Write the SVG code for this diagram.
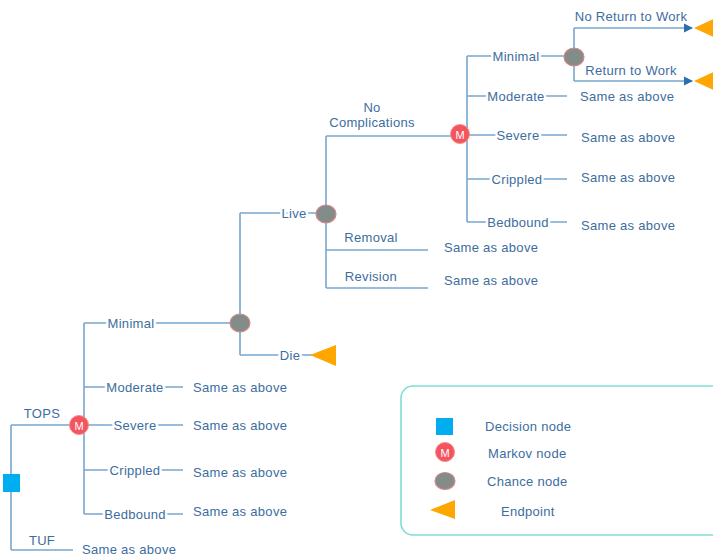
<svg xmlns="http://www.w3.org/2000/svg" width="713" height="560" viewBox="0 0 713 560">
<defs>
<style>
text{font-family:"Liberation Sans",Arial,sans-serif;font-size:13px;fill:#3d6d9e;letter-spacing:0.3px}
.on{paint-order:stroke;stroke:#fff;stroke-width:5px;stroke-linejoin:round;text-anchor:middle;dominant-baseline:central}
.lb{dominant-baseline:central}
.c{text-anchor:middle}
.ln{fill:none;stroke:#79a6cf;stroke-width:1.6}
.mk{fill:#f2555d;stroke:#f88;stroke-width:1}
.mt{fill:#fff;font-size:11px;text-anchor:middle;dominant-baseline:central;letter-spacing:0}
.ch{fill:#828c89;stroke:#d9868a;stroke-width:1.2}
.ep{fill:#ffa600}
.dc{fill:#00aeef}
</style>
<marker id="ar" viewBox="0 0 8 8" refX="7" refY="4" markerWidth="6" markerHeight="6" orient="auto"><path d="M0,0L8,4L0,8z" fill="#2c6fb0"/></marker>
</defs>
<rect width="713" height="560" fill="#fff"/>
<g id="connectors">
<path class="ln" d="M11,425V550M11,425H80M11,550H73"/>
<path class="ln" d="M84,323V514M84,323H240M84,387H183M80,425H183M84,470H183M84,514H183"/>
<path class="ln" d="M240,213V355M240,213H326M240,355H312"/>
<path class="ln" d="M326,136V288M326,136H460M326,250H428M326,288H428"/>
<path class="ln" d="M467,56V222M467,56H576M467,96H567M460,135H567M467,179H567M467,222H567"/>
<path class="ln" d="M574,28V81"/>
<path class="ln" d="M574,28H692" marker-end="url(#ar)"/>
<path class="ln" d="M574,81H692" marker-end="url(#ar)"/>
</g>
<g id="labels">
<text x="42" y="418" class="c">TOPS</text>
<text x="42" y="545" class="c">TUF</text>
<text x="82" y="554">Same as above</text>
<text x="131" y="323" class="on">Minimal</text>
<text x="135" y="387" class="on">Moderate</text>
<text x="135" y="425" class="on">Severe</text>
<text x="135" y="470" class="on">Crippled</text>
<text x="135" y="514" class="on">Bedbound</text>
<text x="193" y="387" class="lb">Same as above</text>
<text x="193" y="425" class="lb">Same as above</text>
<text x="193" y="472" class="lb">Same as above</text>
<text x="193" y="511" class="lb">Same as above</text>
<text x="294" y="213" class="on">Live</text>
<text x="290" y="355" class="on">Die</text>
<text x="372" y="112" class="c">No</text>
<text x="372" y="127" class="c">Complications</text>
<text x="371" y="242" class="c">Removal</text>
<text x="371" y="281" class="c">Revision</text>
<text x="444" y="247" class="lb">Same as above</text>
<text x="444" y="280" class="lb">Same as above</text>
<text x="516" y="56" class="on">Minimal</text>
<text x="516" y="96" class="on">Moderate</text>
<text x="518" y="135" class="on">Severe</text>
<text x="517" y="179" class="on">Crippled</text>
<text x="518" y="222" class="on">Bedbound</text>
<text x="580" y="96" class="lb">Same as above</text>
<text x="581" y="137" class="lb">Same as above</text>
<text x="581" y="177" class="lb">Same as above</text>
<text x="581" y="225" class="lb">Same as above</text>
<text x="631" y="21" class="c">No Return to Work</text>
<text x="631" y="75" class="c">Return to Work</text>
</g>
<g id="decision"><rect class="dc" x="3" y="474" width="17" height="18"/></g>
<g id="markov1"><circle class="mk" cx="79" cy="425" r="9.5"/><text class="mt" x="79" y="425.5">M</text></g>
<g id="chance1"><ellipse class="ch" cx="240" cy="323" rx="10" ry="9"/></g>
<g id="endpoint-die"><polygon class="ep" points="310,355 336,345 336,366"/></g>
<g id="chance2"><ellipse class="ch" cx="326" cy="214" rx="10" ry="9"/></g>
<g id="markov2"><circle class="mk" cx="460" cy="134" r="9.5"/><text class="mt" x="460" y="134.5">M</text></g>
<g id="chance3"><ellipse class="ch" cx="574" cy="57" rx="10" ry="9"/></g>
<g id="endpoint-nrw"><polygon class="ep" points="694,28 716,18 716,38"/></g>
<g id="endpoint-rw"><polygon class="ep" points="694,81 716,71 716,91"/></g>
<g id="legend">
<rect x="401" y="386" width="330" height="149" rx="12" fill="#fff" stroke="#7fded3" stroke-width="1.6"/>
<rect class="dc" x="436" y="418" width="17" height="17"/>
<text x="485" y="426" class="lb">Decision node</text>
<circle class="mk" cx="445" cy="452" r="9.5"/><text class="mt" x="445" y="452.5">M</text>
<text x="488" y="453" class="lb">Markov node</text>
<ellipse class="ch" cx="445" cy="481" rx="10" ry="8.5"/>
<text x="487" y="481" class="lb">Chance node</text>
<polygon class="ep" points="430,510 455,500 455,519"/>
<text x="501" y="511" class="lb">Endpoint</text>
</g>
</svg>
